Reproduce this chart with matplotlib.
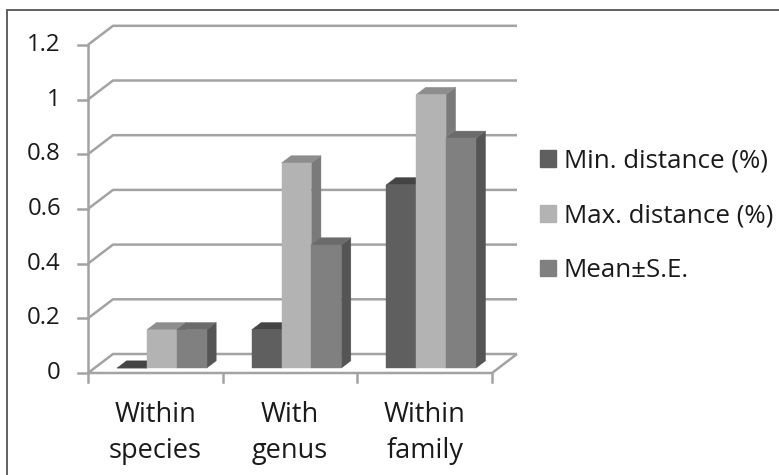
import matplotlib
matplotlib.use("Agg")
import matplotlib.pyplot as plt
from matplotlib.patches import Polygon, Patch, Rectangle

categories = ["Within\nspecies", "With\ngenus", "Within\nfamily"]
series_names = ["Min. distance (%)", "Max. distance (%)", "Mean±S.E."]
min_distance = [0.0, 0.14, 0.67]
max_distance = [0.14, 0.75, 1.0]
mean_se = [0.14, 0.45, 0.84]
y_ticks = [0, 0.2, 0.4, 0.6, 0.8, 1.0, 1.2]
y_tick_labels = ["0", "0.2", "0.4", "0.6", "0.8", "1", "1.2"]

series = [min_distance, max_distance, mean_se]
# front, top, side shades for each series
face_colors = [("#5f5f5f", "#444444", "#3d3d3d"),
               ("#b3b3b3", "#8d8d8d", "#7a7a7a"),
               ("#808080", "#6b6b6b", "#555555")]

plt.rcParams["font.family"] = ["Open Sans", "DejaVu Sans"]
FS_TICK = 17.3
FS_CAT = 19.5
FS_LEG = 18.6
TEXT = "#1a1a1a"
GRID = "#a3a3a3"

W, H, DPI = 779, 475, 100
fig = plt.figure(figsize=(W / DPI, H / DPI), dpi=DPI)
ax = fig.add_axes([0, 0, 1, 1])
ax.axis("off")

# plot-area geometry (pixels): front floor edge and wall depth
X0, X1, Y0 = 88, 492, 373
PX_PER_UNIT = 273.5
ncat = len(categories)
cat_px = (X1 - X0) / ncat
ax.set_xlim(-X0 / cat_px, (W - X0) / cat_px)
ax.set_ylim((Y0 - H) / PX_PER_UNIT, Y0 / PX_PER_UNIT)
DX = 25 / cat_px
DY = 19 / PX_PER_UNIT


def proj(c, v, d):
    """Oblique projection: d is the depth fraction (0 = front, 1 = back wall)."""
    return (c + d * DX, v + d * DY)


def line3d(points, **kw):
    xs, ys = zip(*[proj(*p) for p in points])
    ax.plot(xs, ys, solid_capstyle="butt", **kw)


# chart-area border (only top and left edges visible)
fig.patches.append(Rectangle((7 / W, -0.1), 1.2, 1 - 10 / H + 0.1,
                             transform=fig.transFigure, fill=False,
                             edgecolor="#555555", linewidth=1.3))

# walls: gridlines on the side and back walls, floor
for t in y_ticks:
    line3d([(0, t, 0), (0, t, 1), (ncat, t, 1)], color=GRID, lw=1.8, zorder=1)
line3d([(0, 0, 0), (ncat, 0, 0), (ncat, 0, 1)], color=GRID, lw=1.8, zorder=1)

# value axis
line3d([(0, 0, 0), (0, y_ticks[-1], 0)], color=GRID, lw=1.8, zorder=5)
tick_len = 10 / cat_px
for t, lab in zip(y_ticks, y_tick_labels):
    ax.plot([-tick_len, 0], [t, t], color=GRID, lw=1.8, zorder=5)
    ax.text(-27 / cat_px, t, lab, ha="right", va="center",
            fontsize=FS_TICK, color=TEXT)

# category axis
for i in range(ncat + 1):
    ax.plot([i, i], [0, -9 / PX_PER_UNIT], color=GRID, lw=1.8, zorder=5)
for i, lab in enumerate(categories):
    ax.text(i + 0.5, -60 / PX_PER_UNIT, lab, ha="center", va="center",
            fontsize=FS_CAT, color=TEXT, linespacing=1.4)

# 3-D clustered columns
bar_w = 0.222
offset = (1 - bar_w * len(series)) / 2
d0, d1 = 0.26, 0.64
for i in range(ncat):
    for j, vals in enumerate(series):
        v = vals[i]
        c = i + offset + j * bar_w
        front, top, side = face_colors[j]
        z = 10 + i * 10 + j
        side_poly = [proj(c + bar_w, 0, d0), proj(c + bar_w, v, d0),
                     proj(c + bar_w, v, d1), proj(c + bar_w, 0, d1)]
        top_poly = [proj(c, v, d0), proj(c + bar_w, v, d0),
                    proj(c + bar_w, v, d1), proj(c, v, d1)]
        front_poly = [proj(c, 0, d0), proj(c + bar_w, 0, d0),
                      proj(c + bar_w, v, d0), proj(c, v, d0)]
        for poly, col in ((side_poly, side), (top_poly, top), (front_poly, front)):
            ax.add_patch(Polygon(poly, closed=True, facecolor=col,
                                 edgecolor=col, lw=0.3, zorder=z))

# legend
handles = [Patch(facecolor=fc[0], edgecolor=fc[0]) for fc in face_colors]
ax.legend(handles, series_names, loc="center left",
          bbox_to_anchor=(540 / W, 1 - 216 / H), frameon=False,
          fontsize=FS_LEG, handlelength=0.62, handleheight=0.62,
          handletextpad=0.3, labelspacing=1.15, borderaxespad=0,
          borderpad=0, labelcolor=TEXT)

fig.savefig("out.png", dpi=DPI, facecolor="white")
